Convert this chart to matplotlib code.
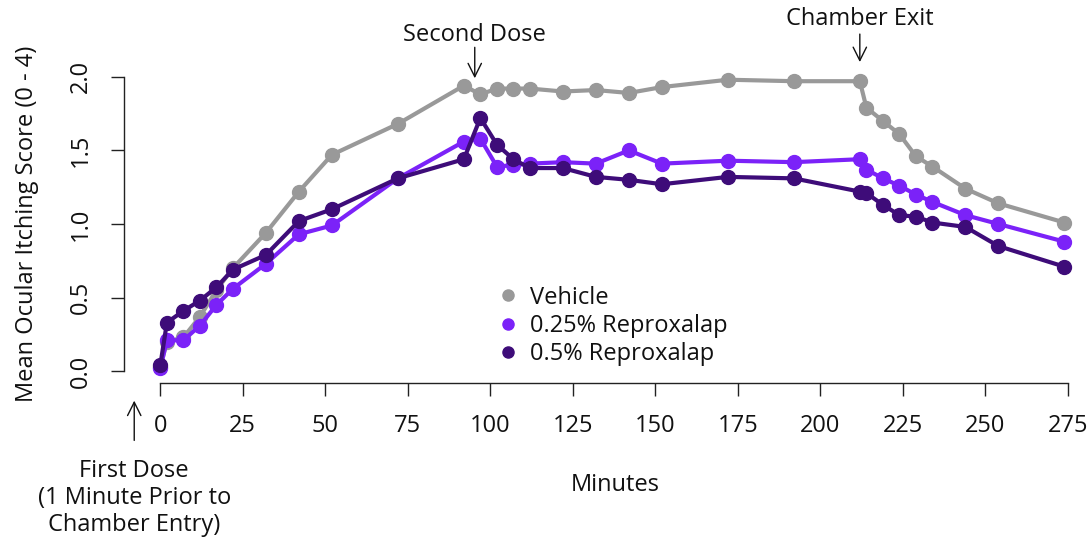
import matplotlib
matplotlib.use("Agg")
import matplotlib.pyplot as plt
from matplotlib.lines import Line2D

plt.rcParams['font.family'] = ['Open Sans', 'DejaVu Sans']

# Time points (minutes) and mean ocular itching scores

minutes = [0, 2, 7, 12, 17, 22, 32, 42, 52, 72, 92, 97, 102, 107, 112, 122,
           132, 142, 152, 172, 192, 212, 214, 219, 224, 229, 234, 244, 254, 274]

vehicle = [0.03, 0.20, 0.23, 0.37, 0.55, 0.70, 0.94, 1.22, 1.47, 1.68, 1.94,
           1.88, 1.92, 1.92, 1.92, 1.90, 1.91, 1.89, 1.93, 1.98, 1.97, 1.97,
           1.79, 1.70, 1.61, 1.46, 1.39, 1.24, 1.14, 1.01]

repro_025 = [0.02, 0.21, 0.21, 0.31, 0.45, 0.56, 0.73, 0.93, 0.99, 1.31, 1.56,
             1.58, 1.39, 1.40, 1.41, 1.42, 1.41, 1.50, 1.41, 1.43, 1.42, 1.44,
             1.37, 1.31, 1.26, 1.20, 1.15, 1.06, 1.00, 0.88]

repro_05 = [0.04, 0.33, 0.41, 0.48, 0.57, 0.69, 0.79, 1.02, 1.10, 1.31, 1.44,
            1.72, 1.54, 1.44, 1.38, 1.38, 1.32, 1.30, 1.27, 1.32, 1.31, 1.22,
            1.21, 1.13, 1.06, 1.05, 1.01, 0.98, 0.85, 0.71]

series_names = ['Vehicle', '0.25% Reproxalap', '0.5% Reproxalap']
series_colors = ['#999999', '#7b22f8', '#3e0c79']

x_ticks = [0, 25, 50, 75, 100, 125, 150, 175, 200, 225, 250, 275]
y_ticks = [0.0, 0.5, 1.0, 1.5, 2.0]

FS = 17

# Figure and axes laid out like the R base-graphics original.

W, H = 1091, 543
fig = plt.figure(figsize=(W / 100, H / 100), dpi=100)
ax = fig.add_axes([124 / W, 1 - 383 / H, (1104 - 124) / W, (383 - 65) / H])

for vals, col in zip([vehicle, repro_025, repro_05], series_colors):
    ax.plot(minutes, vals, color=col, lw=3.0, marker='o', ms=10,
            solid_joinstyle='round', clip_on=False, zorder=3)

ax.set_xlim(-11, 286)
ax.set_ylim(-0.08, 2.08)

for s in ['top', 'right']:
    ax.spines[s].set_visible(False)
ax.spines['left'].set_bounds(0, 2)
ax.spines['bottom'].set_bounds(0, 275)
for s in ['left', 'bottom']:
    ax.spines[s].set_linewidth(1.0)
    ax.spines[s].set_color('#222222')

ax.set_xticks(x_ticks)
ax.set_yticks(y_ticks)
ax.set_yticklabels(['%.1f' % v for v in y_ticks], rotation=90, va='center')
ax.tick_params(axis='both', direction='out', length=9.5, width=1.0,
               color='#222222', labelsize=FS, labelcolor='#111111')
ax.tick_params(axis='x', pad=13)
ax.tick_params(axis='y', pad=13)

# Axis titles

fig.text(615 / W, 1 - 485 / H, 'Minutes', ha='center', va='center',
         fontsize=FS, color='#111111')
fig.text(27 / W, 1 - 224 / H, 'Mean Ocular Itching Score (0 - 4)',
         ha='center', va='center', rotation=90, fontsize=FS, color='#111111')

# Dose / chamber annotations

arrow = dict(arrowstyle='->', lw=1.0, color='#111111', mutation_scale=24,
             shrinkA=0, shrinkB=0)


def mark(x, y_tip, y_tail):
    ax.annotate('', xy=(x, y_tip), xytext=(x, y_tail), arrowprops=arrow,
                annotation_clip=False)


mark(95.3, 1.99, 2.20)
ax.text(95.3, 2.285, 'Second Dose', ha='center', va='center', fontsize=FS,
        color='#111111', clip_on=False)
mark(212, 2.10, 2.29)
ax.text(212, 2.39, 'Chamber Exit', ha='center', va='center', fontsize=FS,
        color='#111111', clip_on=False)
mark(-7.9, -0.20, -0.47)
ax.text(-7.9, -0.86, 'First Dose\n(1 Minute Prior to\nChamber Entry)',
        ha='center', va='center', fontsize=FS, color='#111111',
        linespacing=1.15, clip_on=False)

# Legend (points only, no box)

handles = [Line2D([], [], ls='none', marker='o', ms=8, color=c)
           for c in series_colors]
ax.legend(handles, series_names, loc='center left',
          bbox_to_anchor=(496 / W, 1 - 326 / H), bbox_transform=fig.transFigure,
          frameon=False, fontsize=FS, handlelength=1.0, handletextpad=0.45,
          labelspacing=0.18, borderpad=0, borderaxespad=0,
          labelcolor='#111111')

fig.savefig('out.png', dpi=100)
